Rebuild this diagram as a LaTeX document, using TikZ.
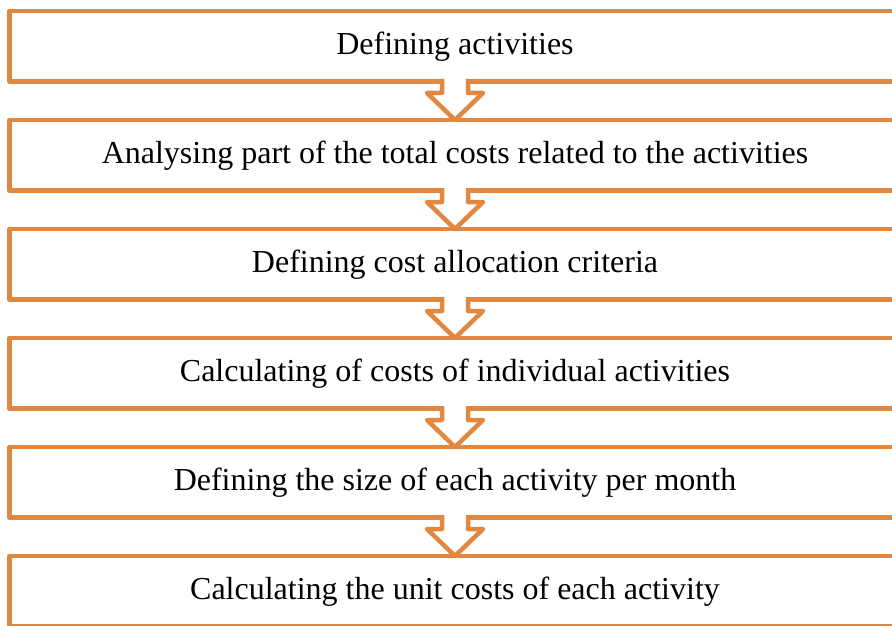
\documentclass[tikz,border=0pt]{standalone}
\usepackage{fontspec}
\setmainfont{Liberation Serif}
\usetikzlibrary{positioning}

\definecolor{boxorange}{RGB}{226,135,63}

\begin{document}
\begin{tikzpicture}[actnode/.style={rectangle, draw=boxorange, line width=4.5pt, line join=round, fill=white, minimum width=891pt, minimum height=70.5pt, inner sep=0pt, outer sep=0pt, font=\fontsize{32}{38}\selectfont}, flowarrow/.style={draw=boxorange, fill=white, line width=4.5pt, line join=round}, node distance=38.5pt]
	\useasboundingbox (0,0) rectangle (892pt,-626pt);
	\node[actnode] (defining) at (455pt,-46.25pt) {Defining activities};
	\node[actnode] (analysing) [below = of defining] {Analysing part of the total costs related to the activities};
	\node[actnode] (criteria) [below = of analysing] {Defining cost allocation criteria};
	\node[actnode] (calccosts) [below = of criteria] {Calculating of costs of individual activities};
	\node[actnode] (size) [below = of calccosts] {Defining the size of each activity per month};
	\node[actnode] (unitcosts) [below = of size] {Calculating the unit costs of each activity};
	\draw[flowarrow] ([xshift=-13pt,yshift=2.5pt]defining.south) -- ++(0,-14pt) -- ++(-15pt,0) -- (analysing.north) -- ++(28pt,27pt) -- ++(-15pt,0) -- ++(0,14pt);
	\draw[flowarrow] ([xshift=-13pt,yshift=2.5pt]analysing.south) -- ++(0,-14pt) -- ++(-15pt,0) -- (criteria.north) -- ++(28pt,27pt) -- ++(-15pt,0) -- ++(0,14pt);
	\draw[flowarrow] ([xshift=-13pt,yshift=2.5pt]criteria.south) -- ++(0,-14pt) -- ++(-15pt,0) -- (calccosts.north) -- ++(28pt,27pt) -- ++(-15pt,0) -- ++(0,14pt);
	\draw[flowarrow] ([xshift=-13pt,yshift=2.5pt]calccosts.south) -- ++(0,-14pt) -- ++(-15pt,0) -- (size.north) -- ++(28pt,27pt) -- ++(-15pt,0) -- ++(0,14pt);
	\draw[flowarrow] ([xshift=-13pt,yshift=2.5pt]size.south) -- ++(0,-14pt) -- ++(-15pt,0) -- (unitcosts.north) -- ++(28pt,27pt) -- ++(-15pt,0) -- ++(0,14pt);
\end{tikzpicture}
\end{document}
